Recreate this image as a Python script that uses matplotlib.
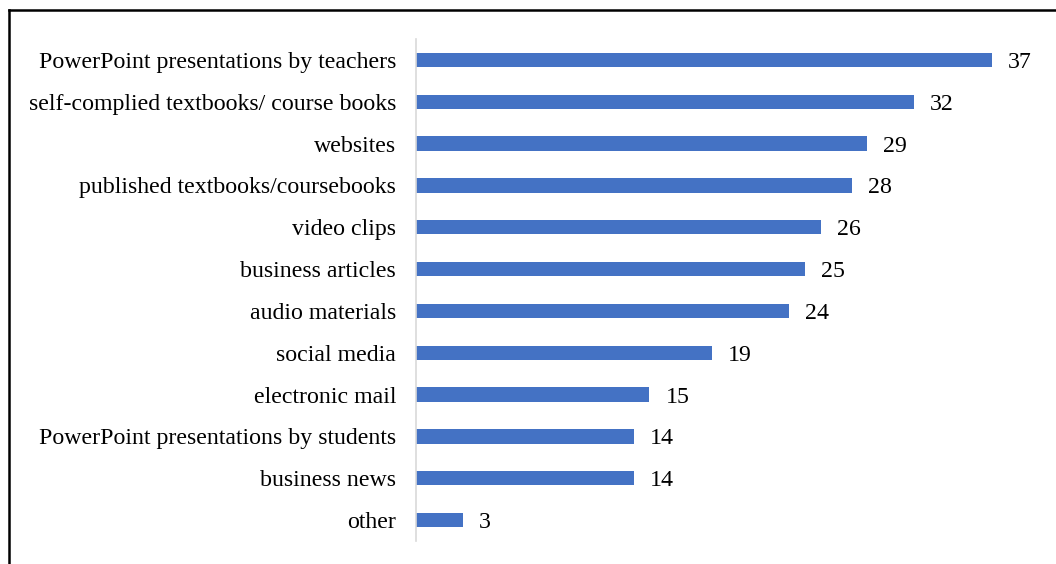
import matplotlib
matplotlib.use("Agg")
import matplotlib.pyplot as plt
from matplotlib.lines import Line2D

categories = [
    "PowerPoint presentations by teachers",
    "self-complied textbooks/ course books",
    "websites",
    "published textbooks/coursebooks",
    "video clips",
    "business articles",
    "audio materials",
    "social media",
    "electronic mail",
    "PowerPoint presentations by students",
    "business news",
    "other",
]
values = [37, 32, 29, 28, 26, 25, 24, 19, 15, 14, 14, 3]

plt.rcParams["font.family"] = ["Liberation Serif", "DejaVu Serif"]

W, H, DPI = 1056, 564, 100
fig = plt.figure(figsize=(W / DPI, H / DPI), dpi=DPI)
ax = fig.add_axes([416 / W, 1 - 541 / H, (1040 - 416) / W, (541 - 39) / H])

ypos = list(range(len(categories)))
ax.barh(ypos, values, height=0.34, color="#4472C4")
ax.set_ylim(len(categories) - 0.5, -0.5)
ax.set_xlim(0, 40.1)
ax.set_yticks(ypos)
ax.set_yticklabels(categories, fontsize=17.2)
ax.tick_params(axis="y", length=0, pad=14.4)
ax.set_xticks([])
for s in ["top", "right", "bottom"]:
    ax.spines[s].set_visible(False)
ax.spines["left"].set_color("#D9D9D9")
ax.spines["left"].set_linewidth(1.2)

for y, v in zip(ypos, values):
    ax.annotate(str(v), (v, y), xytext=(11.5, 0), textcoords="offset points",
                va="center_baseline", ha="left", fontsize=17.2)

# outer frame
fig.add_artist(Line2D([9 / W, 9 / W], [0, 1 - 10 / H], transform=fig.transFigure,
                      color="black", linewidth=1.8))
fig.add_artist(Line2D([9 / W, 1], [1 - 10 / H, 1 - 10 / H], transform=fig.transFigure,
                      color="black", linewidth=1.8))

fig.savefig("out.png", dpi=DPI)
